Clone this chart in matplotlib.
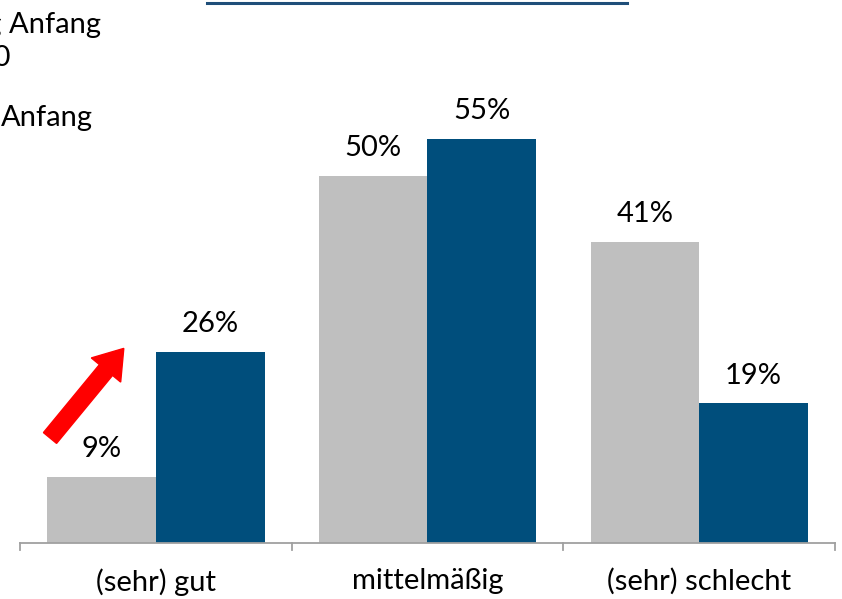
import matplotlib.pyplot as plt
import matplotlib.patches as mpatches
from matplotlib.transforms import IdentityTransform
from matplotlib.lines import Line2D

plt.rcParams['font.family'] = ['Lato', 'DejaVu Sans']

categories = ['(sehr) gut', 'mittelmäßig', '(sehr) schlecht']
before = [9, 50, 41]
now = [26, 55, 19]

grey = '#BFBFBF'
blue = '#004E7C'
fs = 21

fig = plt.figure(figsize=(8.42, 5.99), dpi=100)
ax = fig.add_axes([20 / 842, 56 / 599, 815 / 842, 441 / 599])

x = list(range(len(categories)))
w = 0.4
b1 = ax.bar([i - w / 2 for i in x], before, width=w, color=grey)
b2 = ax.bar([i + w / 2 for i in x], now, width=w, color=blue)

for bars, vals in ((b1, before), (b2, now)):
    for r, v in zip(bars, vals):
        ax.text(r.get_x() + r.get_width() / 2, v + 2.0, f'{v}%',
                ha='center', va='bottom', fontsize=fs)

ax.set_xlim(-0.5, 2.5)
ax.set_ylim(0, 60)
ax.set_yticks([])
ax.set_xticks(x)
ax.set_xticklabels(categories, fontsize=fs)
ax.tick_params(axis='x', length=0, pad=18)
for s in ['top', 'right', 'left']:
    ax.spines[s].set_visible(False)
ax.spines['bottom'].set_color('#A0A0A0')
ax.spines['bottom'].set_linewidth(1.3)
for t in [-0.5, 0.5, 1.5, 2.5]:
    ax.plot([t, t], [0, -1.0], color='#A0A0A0', lw=1.3, clip_on=False)

# legend text, cut off at the left edge like in the original
fig.text(101 / 842, 1 - 33 / 599, 'Bewertung Anfang', ha='right', va='baseline', fontsize=fs)
fig.text(11 / 842, 1 - 66 / 599, '2010', ha='right', va='baseline', fontsize=fs)
fig.text(93 / 842, 1 - 126 / 599, 'Anfang', ha='right', va='baseline', fontsize=fs)

# title underline, text is cut off above
fig.add_artist(Line2D([207 / 842, 627 / 842], [1 - 2.5 / 599, 1 - 2.5 / 599],
                      color='#1F4E79', lw=2.2))

# red arrow
arrow = mpatches.FancyArrow(50, 161, 56, 68, width=17, head_width=38,
                            head_length=28, color='#FF0000',
                            transform=IdentityTransform())
fig.add_artist(arrow)

fig.savefig('out.png', dpi=100)
